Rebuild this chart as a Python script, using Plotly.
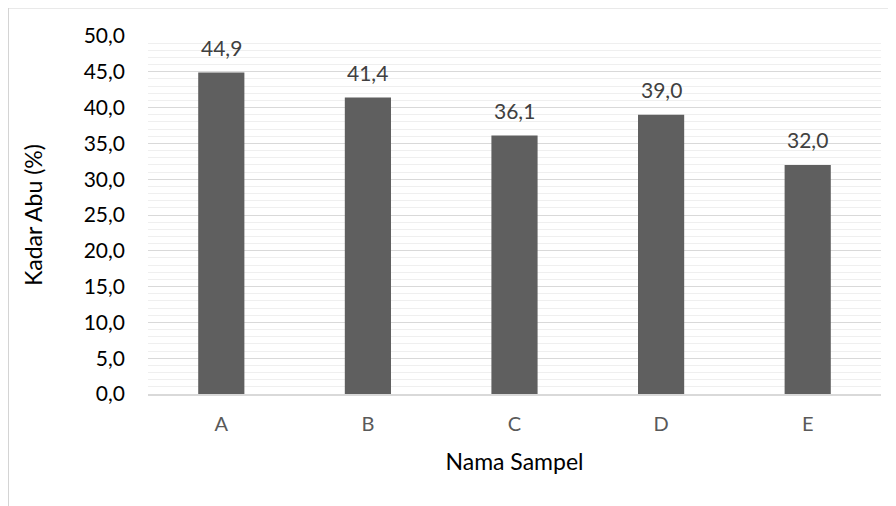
import plotly.graph_objects as go

categories = ["A", "B", "C", "D", "E"]
values = [44.9, 41.4, 36.1, 39.0, 32.0]
y_ticks = [0, 5, 10, 15, 20, 25, 30, 35, 40, 45, 50]

def fmt(v):
    return f"{v:.1f}".replace(".", ",")

fig = go.Figure()
fig.add_trace(go.Bar(
    x=categories, y=values,
    marker=dict(color="#5f5f5f", line=dict(width=0)),
    hoverinfo="x+y",
))

for c, v in zip(categories, values):
    fig.add_annotation(x=c, y=v, text=fmt(v), showarrow=False,
                       yanchor="bottom", yshift=11,
                       font=dict(family="Lato", size=21, color="#404040"))

fig.update_layout(
    width=896, height=506,
    margin=dict(l=140, r=23, t=28, b=120, autoexpand=False),
    paper_bgcolor="white", plot_bgcolor="white",
    separators=",.",
    bargap=0.685,
    showlegend=False,
    font=dict(family="Lato", size=21, color="#000000"),
    xaxis=dict(
        title=dict(text="Nama Sampel", font=dict(size=23, color="#000000"), standoff=20),
        tickfont=dict(size=20, color="#595959"),
        showline=True, linecolor="#d9d9d9", linewidth=2,
        ticks="", ticklabelstandoff=11,
    ),
    yaxis=dict(
        title=dict(text="Kadar Abu (%)", font=dict(size=23, color="#000000"), standoff=34),
        range=[0, 50], tickvals=y_ticks, tickformat=".1f",
        tickfont=dict(size=21, color="#000000"),
        showgrid=True, gridcolor="#d9d9d9", gridwidth=1,
        minor=dict(dtick=1, showgrid=True, gridcolor="#efefef", gridwidth=1),
        zeroline=False, ticks="", ticklabelstandoff=22,
    ),
    shapes=[dict(type="rect", xref="paper", yref="paper",
                 x0=-140/733, x1=1.2, y0=-0.5, y1=1 + 28.5/358,
                 line=dict(color="#d4d4d4", width=2), layer="below")],
)

fig.write_html("out.html")
